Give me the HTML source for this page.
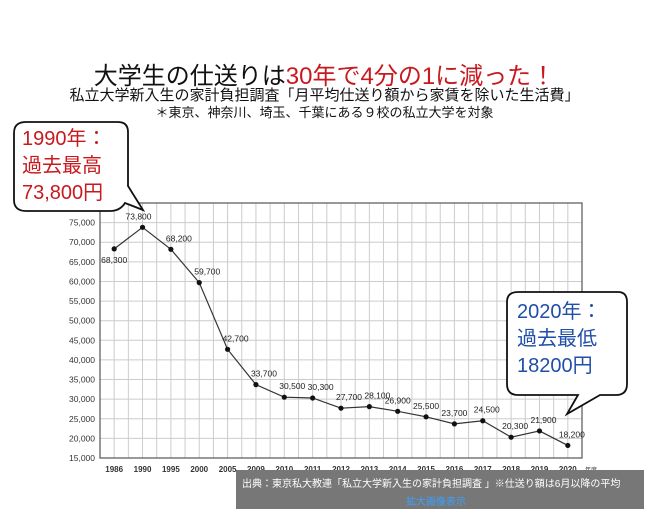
<!DOCTYPE html>
<html><head><meta charset="utf-8">
<style>
body{margin:0;width:649px;height:526px;background:#fff;overflow:hidden;font-family:"Liberation Sans","Noto Sans CJK JP",sans-serif;}
.t{position:absolute;left:0;width:649px;text-align:center;white-space:nowrap;}
</style></head><body>
<div class="t" style="top:56px;font-size:24px;color:#111;">大学生の仕送りは<span style="color:#c8191e">30年で4分の1に減った！</span></div>
<div class="t" style="top:84px;font-size:15px;color:#111;">私立大学新入生の家計負担調査「月平均仕送り額から家賃を除いた生活費」</div>
<div class="t" style="top:102px;font-size:13px;color:#111;">＊東京、神奈川、埼玉、千葉にある９校の私立大学を対象</div>
<svg id="chart" width="649" height="526" style="position:absolute;left:0;top:0" font-family="Liberation Sans, sans-serif"></svg>
<div style="position:absolute;left:236px;top:470px;width:408px;height:39px;background:#777;color:#fff;font-size:10px;">
<div style="position:absolute;left:6px;top:5px;white-space:nowrap;">出典：東京私大教連「私立大学新入生の家計負担調査 」※仕送り額は6月以降の平均</div>
<div style="position:absolute;left:170px;top:23px;color:#3aa0ff;white-space:nowrap;">拡大画像表示</div>
</div>
<script>
const categories=["1986","1990","1995","2000","2005","2009","2010","2011","2012","2013","2014","2015","2016","2017","2018","2019","2020"];
const values=[68300,73800,68200,59700,42700,33700,30500,30300,27700,28100,26900,25500,23700,24500,20300,21900,18200];
const valueLabels=["68,300","73,800","68,200","59,700","42,700","33,700","30,500","30,300","27,700","28,100","26,900","25,500","23,700","24,500","20,300","21,900","18,200"];
const yTicks=[15000,20000,25000,30000,35000,40000,45000,50000,55000,60000,65000,70000,75000];
const labelOffsets=[[0,14],[-4,-8],[8,-8],[8,-8],[8,-8],[8,-8],[8,-8],[8,-8],[8,-8],[8,-8],[0,-8],[0,-8],[0,-8],[4,-8],[4,-8],[4,-8],[4,-8]];
const svg=document.getElementById('chart');const NS='http://www.w3.org/2000/svg';
const L=100,R=582,T=203,B=458,ymin=15000,ymax=80000;
const bw=(R-L)/categories.length;
const x=i=>L+bw*(i+0.5);const y=v=>B-(v-ymin)/(ymax-ymin)*(B-T);
function mk(t,a,p){const e=document.createElementNS(NS,t);for(const k in a)e.setAttribute(k,a[k]);(p||svg).appendChild(e);return e;}
for(let i=0;i<=categories.length*2;i++){const gx=L+bw*i/2;const g=mk('line',{x1:gx,x2:gx,y1:T,y2:B,stroke:'#ccc','stroke-width':1});

}
for(let v=ymin;v<=ymax;v+=5000){const g=mk('line',{x1:L,x2:R,y1:y(v),y2:y(v),stroke:'#ccc','stroke-width':1});

}
const fr=mk('rect',{x:L,y:T,width:R-L,height:B-T,fill:'none',stroke:'#555','stroke-width':1.2});


yTicks.forEach(v=>{const t=mk('text',{x:L-5,y:y(v)+3,'text-anchor':'end','font-size':8.5,fill:'#333'});t.textContent=v.toLocaleString('en-US');

});
categories.forEach((c,i)=>{const t=mk('text',{x:x(i),y:B+14,'text-anchor':'middle','font-size':8,'font-weight':'bold',fill:'#333'});t.textContent=c;

});
const ln=mk('polyline',{points:values.map((v,i)=>x(i)+','+y(v)).join(' '),fill:'none',stroke:'#333','stroke-width':1.2});


values.forEach((v,i)=>{const p=mk('circle',{cx:x(i),cy:y(v),r:2.6,fill:'#111'});


const t=mk('text',{x:x(i)+labelOffsets[i][0],y:y(v)+labelOffsets[i][1],'text-anchor':'middle','font-size':8.5,fill:'#222'});t.textContent=valueLabels[i];

});
const c1=mk('path',{d:'M26,122 H118 Q128,122 128,132 V186 L143,210 L125,203 Q120,211 110,211 H26 Q14,211 14,200 V133 Q14,122 26,122 Z',fill:'#fff',stroke:'#111','stroke-width':1.8});


[['1990年：',145],['過去最高',172],['73,800円',199]].forEach(a=>{const t=mk('text',{x:22,y:a[1],'font-size':20,fill:'#c8191e','font-family':'Liberation Sans, Noto Sans CJK JP, sans-serif'});t.textContent=a[0];

});
const c2=mk('path',{d:'M518,292 H618 Q627,292 627,302 V384 Q627,395 616,395 H600 L567,414 L578,395 H518 Q507,395 507,384 V302 Q507,292 518,292 Z',fill:'#fff',stroke:'#111','stroke-width':1.8});


[['2020年：',318],['過去最低',345],['18200円',372]].forEach(a=>{const t=mk('text',{x:517,y:a[1],'font-size':20,fill:'#1f4fa8','font-family':'Liberation Sans, Noto Sans CJK JP, sans-serif'});t.textContent=a[0];

});
const u=mk('text',{x:585,y:B+14,'font-size':6,fill:'#333','font-family':'Liberation Sans, Noto Sans CJK JP, sans-serif'});u.textContent='年度';


</script>
</body></html>
